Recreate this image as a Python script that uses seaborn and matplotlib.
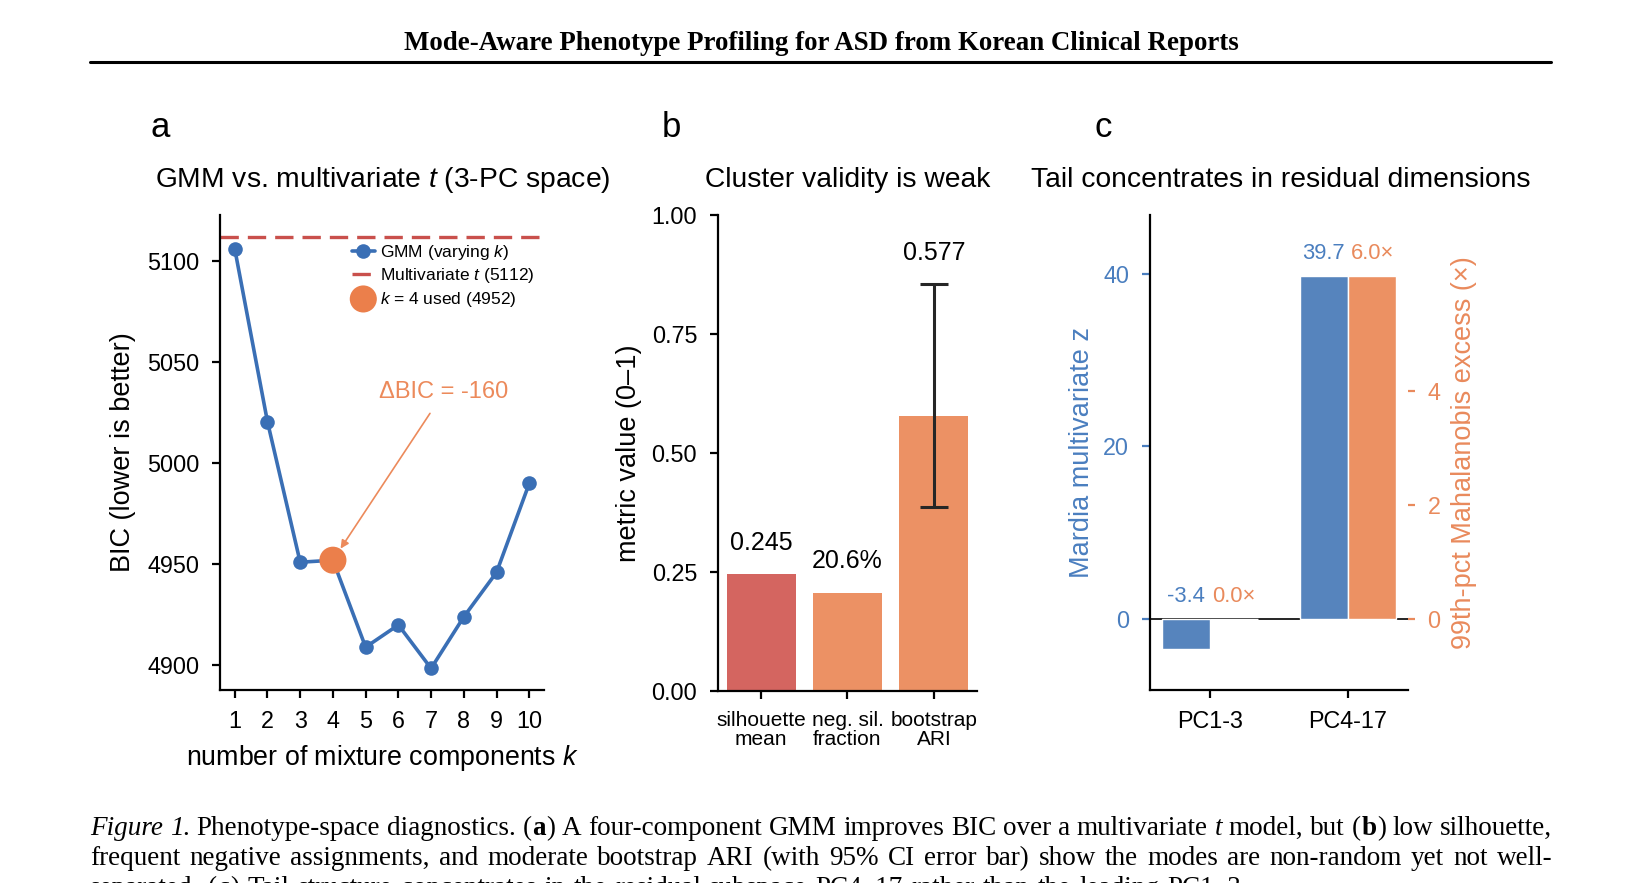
import numpy as np
import pandas as pd
import matplotlib
matplotlib.use("Agg")
import matplotlib.pyplot as plt
from matplotlib.lines import Line2D
import seaborn as sns

# ---------------- data ----------------
k_values = [1, 2, 3, 4, 5, 6, 7, 8, 9, 10]
gmm_bic = [5106, 5020.5, 4951, 4952, 4909, 4920, 4898.5, 4924, 4946, 4990]
t_bic = 5112
k_used = 4
k_used_bic = 4952

metric_labels = ["silhouette\nmean", "neg. sil.\nfraction", "bootstrap\nARI"]
metric_values = [0.245, 0.206, 0.577]
metric_texts = ["0.245", "20.6%", "0.577"]
ari_ci = [0.386, 0.855]

subspaces = ["PC1-3", "PC4-17"]
mardia_z = [-3.4, 39.7]
mahal_excess = [0.0, 6.0]

# ---------------- style ----------------
sns.set_theme(style="ticks")
plt.rcParams["font.family"] = ["Liberation Sans", "DejaVu Sans"]
plt.rcParams.update({
    "mathtext.fontset": "custom",
    "mathtext.rm": "Liberation Sans",
    "mathtext.it": "Liberation Sans:italic",
    "axes.linewidth": 1.6,
    "axes.edgecolor": "black",
    "xtick.major.width": 1.6, "ytick.major.width": 1.6,
    "xtick.major.size": 6, "ytick.major.size": 6,
    "xtick.major.pad": 8.3, "ytick.major.pad": 9,
    "xtick.labelsize": 16.8, "ytick.labelsize": 16.8,
    "xtick.color": "black", "ytick.color": "black",
    "text.color": "black", "axes.labelcolor": "black",
})

W, H = 1639, 883
fig = plt.figure(figsize=(W / 100, H / 100), dpi=100)


def rect(l, t, r, b):
    return [l / W, 1 - b / H, (r - l) / W, (b - t) / H]


def fy(y):
    return 1 - y / H


axA = fig.add_axes(rect(220, 215, 544, 690))
axB = fig.add_axes(rect(718, 215, 977, 691))
axC = fig.add_axes(rect(1150, 215, 1408, 690))

# ---------------- panel a ----------------
blue = "#3a6fb5"
orange_pt = "#eb7f4b"
orange_txt = "#ec8a5b"
sns.lineplot(x=k_values, y=gmm_bic, ax=axA, color=blue, lw=2.6, marker="o",
             markersize=10.5, markeredgewidth=0, label="GMM (varying $k$)")
axA.axhline(t_bic, color="#c9504c", lw=2.4, dashes=(5.5, 2.7),
            label=f"Multivariate $t$ ({t_bic})")
sns.scatterplot(x=[k_used], y=[k_used_bic], ax=axA, s=380, color=orange_pt,
                edgecolor="none", zorder=5,
                label=f"$k$ = {k_used} used ({k_used_bic})")
axA.annotate(f"ΔBIC = {k_used_bic - t_bic:.0f}", xy=(k_used, k_used_bic),
             xytext=(80, 121), textcoords="offset points", ha="center",
             va="center", fontsize=17, color=orange_txt,
             arrowprops=dict(arrowstyle="-|>", color=orange_txt, lw=1.2,
                             shrinkA=6, shrinkB=10, mutation_scale=12))
axA.set_xticks(k_values)
axA.set_yticks([4900, 4950, 5000, 5050, 5100])
axA.set_xlabel("number of mixture components $k$", fontsize=19.3)
axA.set_ylabel("BIC (lower is better)", fontsize=19.5)
axA.xaxis.set_label_coords(0.5, -0.112)
axA.yaxis.set_label_coords(-0.259, 0.5)
axA.legend(loc="upper left", bbox_to_anchor=(0.386, 0.956), frameon=False,
           fontsize=12.5, handlelength=1.3, handletextpad=0.3,
           labelspacing=0.25, borderaxespad=0, borderpad=0.4)
sns.despine(ax=axA)

# ---------------- panel b ----------------
palB = ["#d46560", "#ec9164", "#ec9164"]
sns.barplot(x=metric_labels, y=metric_values, hue=metric_labels, palette=palB,
            legend=False, ax=axB, width=0.8, linewidth=0, saturation=1,
            errorbar=None)
i_ari = metric_labels.index("bootstrap\nARI")
v_ari = metric_values[i_ari]
axB.errorbar(i_ari, v_ari, yerr=[[v_ari - ari_ci[0]], [ari_ci[1] - v_ari]],
             fmt="none", ecolor="#262626", elinewidth=2.2, capsize=10,
             capthick=2.2, zorder=5)
for i, (v, t) in enumerate(zip(metric_values, metric_texts)):
    top = ari_ci[1] if i == i_ari else v
    axB.annotate(t, xy=(i, top), xytext=(0, 14), textcoords="offset points",
                 ha="center", va="bottom", fontsize=18)
axB.set_ylim(0, 1)
axB.set_xlim(-0.5, 2.5)
axB.set_yticks([0, 0.25, 0.5, 0.75, 1.0])
axB.set_yticklabels(["0.00", "0.25", "0.50", "0.75", "1.00"])
for lbl in axB.get_xticklabels():
    lbl.set_fontsize(15)
    lbl.set_linespacing(1.0)
axB.set_xlabel("")
axB.set_ylabel("metric value (0–1)", fontsize=19.5)
axB.yaxis.set_label_coords(-0.292, 0.5)
sns.despine(ax=axB)

# ---------------- panel c ----------------
blueC = "#5684bd"
orangeC = "#ec9163"
blue_txt = "#4a7ebf"
orange_c_txt = "#e98a5c"
axC.axhline(0, color="black", lw=1.2, zorder=0.5)
axC2 = axC.twinx()
dfz = pd.DataFrame({"subspace": subspaces, "value": mardia_z, "series": "z"})
dfe = pd.DataFrame({"subspace": subspaces, "value": mahal_excess, "series": "excess"})
hue_order = ["z", "excess"]
pal = {"z": blueC, "excess": orangeC}
sns.barplot(data=dfz, x="subspace", y="value", hue="series", hue_order=hue_order,
            palette=pal, width=0.7, dodge=True, saturation=1, edgecolor="white",
            linewidth=1, legend=False, errorbar=None, ax=axC)
sns.barplot(data=dfe, x="subspace", y="value", hue="series", hue_order=hue_order,
            palette=pal, width=0.7, dodge=True, saturation=1, edgecolor="white",
            linewidth=1, legend=False, errorbar=None, ax=axC2)
r = mahal_excess[1] / mardia_z[1]
ylo, yhi = -8.2, 46.8
axC.set_ylim(ylo, yhi)
axC2.set_ylim(ylo * r, yhi * r)
axC.set_xlim(-0.435, 1.435)
axC.set_yticks([0, 20, 40])
axC2.set_yticks([0, 2, 4])
axC.tick_params(axis="y", colors=blue_txt)
axC2.tick_params(axis="y", colors=orange_c_txt, length=5, width=1.6, pad=9,
                 labelsize=16.8)
for i, (z, e) in enumerate(zip(mardia_z, mahal_excess)):
    axC.annotate(f"{z:.1f}", xy=(i - 0.175, max(z, 0)), xytext=(0, 9),
                 textcoords="offset points", ha="center", va="bottom",
                 fontsize=15.8, color=blue_txt)
    axC2.annotate(f"{e:.1f}×", xy=(i + 0.175, max(e, 0)), xytext=(0, 9),
                  textcoords="offset points", ha="center", va="bottom",
                  fontsize=15.8, color=orange_c_txt)
axC.set_xlabel("")
axC2.set_xlabel("")
axC.set_ylabel("Mardia multivariate z", fontsize=19.5, color=blue_txt)
axC.yaxis.set_label_coords(-0.213, 0.5)
axC2.set_ylabel("99th-pct Mahalanobis excess (×)", fontsize=19.5,
                color=orange_c_txt)
axC2.yaxis.set_label_coords(1.167, 0.5)
for s in ["top", "right"]:
    axC.spines[s].set_visible(False)
for s in axC2.spines.values():
    s.set_visible(False)

# ---------------- titles / panel letters ----------------
titles = ["GMM vs. multivariate $t$ (3-PC space)", "Cluster validity is weak",
          "Tail concentrates in residual dimensions"]
title_x = [383, 848, 1281]
for tx, tt in zip(title_x, titles):
    fig.text(tx / W, fy(187), tt, ha="center", va="baseline", fontsize=20.3)
for lx, lt in zip([150, 662, 1094], ["a", "b", "c"]):
    fig.text(lx / W, fy(137), lt, ha="left", va="baseline", fontsize=25)

# ---------------- header ----------------
fig.text(821 / W, fy(50), "Mode-Aware Phenotype Profiling for ASD from Korean Clinical Reports",
         ha="center", va="baseline", fontsize=19.4, fontweight="bold",
         family=["Liberation Serif", "DejaVu Serif"])
fig.add_artist(Line2D([90 / W, 1551 / W], [fy(61.5), fy(61.5)], color="black",
                      lw=2.2, transform=fig.transFigure))

# ---------------- caption (justified) ----------------
cap_size = 19.5
serif = ["Liberation Serif", "DejaVu Serif"]
style_props = {
    "n": dict(fontstyle="normal", fontweight="normal"),
    "i": dict(fontstyle="italic", fontweight="normal"),
    "b": dict(fontstyle="normal", fontweight="bold"),
}
cap_lines = [
    [("Figure 1.", "i"), (" Phenotype-space diagnostics. (", "n"), ("a", "b"),
     (") A four-component GMM improves BIC over a multivariate ", "n"), ("t", "i"),
     (" model, but (", "n"), ("b", "b"), (") low silhouette,", "n")],
    [("frequent negative assignments, and moderate bootstrap ARI (with 95% CI "
      "error bar) show the modes are non-random yet not well-", "n")],
    [("separated. (", "n"), ("c", "b"),
     (") Tail structure concentrates in the residual subspace PC4–17 rather "
      "than the leading PC1–3.", "n")],
]
cap_base = [835, 865, 895]
renderer = fig.canvas.get_renderer()


def to_words(runs):
    words = [[]]
    for text, st in runs:
        parts = text.split(" ")
        for j, p in enumerate(parts):
            if j > 0:
                words.append([])
            if p:
                words[-1].append((p, st))
    return [w for w in words if w]


def run_w(text, st):
    t = fig.text(0, 0, text, fontsize=cap_size, family=serif, **style_props[st])
    w = t.get_window_extent(renderer).width
    t.remove()
    return w


x0, x1 = 90, 1553
space_px = 0.25 * cap_size * 100 / 72
for li, runs in enumerate(cap_lines):
    words = to_words(runs)
    widths = [[run_w(t, s) for t, s in w] for w in words]
    wsum = sum(sum(w) for w in widths) + 0.6 * sum(len(w) for w in words)
    if li < 2:
        gap = (x1 - x0 - wsum) / (len(words) - 1)
    else:
        gap = space_px + 1.0
    x = x0
    for w, ws in zip(words, widths):
        for (t, s), rw in zip(w, ws):
            fig.text(x / W, fy(cap_base[li]), t, ha="left", va="baseline",
                     fontsize=cap_size, family=serif, **style_props[s])
            x += rw + 0.6
        x += gap

fig.savefig("out.png", dpi=100)
